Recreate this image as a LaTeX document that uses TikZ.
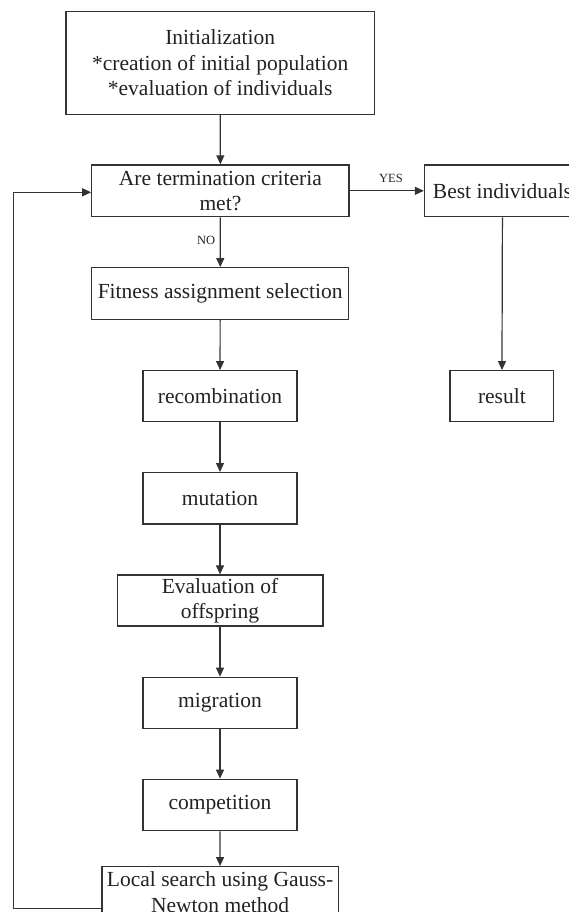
\documentclass[tikz,border=0pt]{standalone}
\usepackage{fontspec}
\setmainfont{Liberation Serif}
\usetikzlibrary{arrows.meta}
\definecolor{linec}{HTML}{333333}
\definecolor{textc}{HTML}{222222}
\tikzset{
  box/.style={draw=linec, line width=1.3pt, rectangle, inner sep=0pt, align=center,
    text=textc, font=\fontsize{21.5}{25.5}\selectfont},
  arr/.style={draw=linec, line width=1.2pt, -{Triangle[length=9pt,width=8pt]}},
  lbl/.style={text=textc, inner sep=0pt, font=\fontsize{12.5}{14}\selectfont},
}
\begin{document}
\begin{tikzpicture}[x=1pt,y=-1pt]
\useasboundingbox (0,0) rectangle (569,912);
\node[box, minimum width=308.5pt, minimum height=102.6pt] (init) at (220.2,63) {Initialization\\*creation of initial population\\*evaluation of individuals};
\node[box, minimum width=257.2pt, minimum height=51.7pt] (term) at (220.4,190.8) {Are termination criteria\\met?};
\node[box, minimum width=156pt, minimum height=51.7pt] (best) at (502.5,190.8) {Best individuals};
\node[box, minimum width=103.7pt, minimum height=51pt] (result) at (501.9,396.2) {result};
\node[box, minimum width=257pt, minimum height=51.6pt] (fit) at (220.2,293.5) {Fitness assignment selection};
\node[box, minimum width=153.8pt, minimum height=51pt] (recomb) at (220,396.2) {recombination};
\node[box, minimum width=153.8pt, minimum height=51.3pt] (mut) at (220,498.3) {mutation};
\node[box, minimum width=205.7pt, minimum height=51pt] (eval) at (220,600.5) {Evaluation of\\offspring};
\node[box, minimum width=153.8pt, minimum height=51pt] (mig) at (220,702.8) {migration};
\node[box, minimum width=153.8pt, minimum height=51.4pt] (comp) at (220,805) {competition};
\node[box, minimum width=236.2pt, minimum height=51pt] (local) at (220.1,892.2) {Local search using Gauss-\\Newton method};

\node[lbl] (yes) at (391,178) {YES};
\node[lbl] (no) at (206.2,240) {NO};

\draw[arr] (init) -- (term);
\draw[arr] (term) -- (best);
\draw[arr] (term) -- (fit);
\draw[arr] (best) -- (result);
\draw[arr] (fit) -- (recomb);
\draw[arr] (recomb) -- (mut);
\draw[arr] (mut) -- (eval);
\draw[arr] (eval) -- (mig);
\draw[arr] (mig) -- (comp);
\draw[arr] (comp) -- (local);
\draw[arr] ([yshift=-16pt]local.west) -| ([xshift=-77.3pt,yshift=-1.5pt]term.west) -- ([yshift=-1.5pt]term.west);
\end{tikzpicture}
\end{document}
